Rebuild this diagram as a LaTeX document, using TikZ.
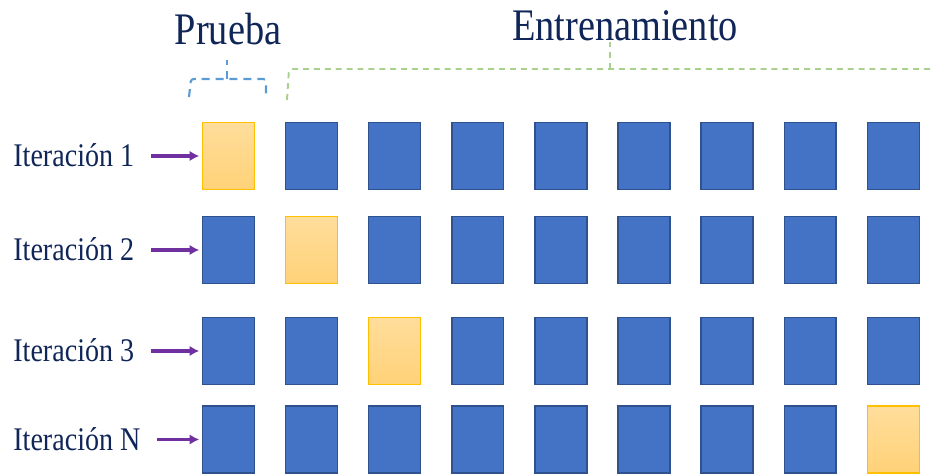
\documentclass[tikz,border=0pt]{standalone}
\usepackage{fontspec}
\setmainfont{Liberation Serif}
\usepackage{tikz}
\usetikzlibrary{arrows.meta,positioning}
\definecolor{NavyText}{RGB}{16,38,88}
\definecolor{FoldBlue}{RGB}{68,114,196}
\definecolor{FoldEdge}{RGB}{47,82,143}
\definecolor{TestTop}{RGB}{255,221,155}
\definecolor{TestBottom}{RGB}{255,210,120}
\definecolor{TestEdge}{RGB}{255,192,0}
\definecolor{ArrowPurple}{RGB}{112,48,160}
\definecolor{BraceBlue}{RGB}{91,155,213}
\definecolor{BraceGreen}{RGB}{169,209,142}
\newcommand{\angosto}[1]{\scalebox{0.85}[1]{#1}}

\begin{document}
\begin{tikzpicture}[x=0.02cm,y=-0.02cm,>={Latex[length=5.5pt,width=6pt]},
    bloque/.style={draw=FoldEdge,fill=FoldBlue,line width=0.8pt,minimum width=29.5pt,minimum height=38pt,inner sep=0pt},
    prueba/.style={bloque,draw=TestEdge,top color=TestTop,bottom color=TestBottom},
    iter/.style={text=NavyText,font=\fontsize{18.8}{21}\selectfont,anchor=west,inner sep=0pt,text height=12.5pt,text depth=0pt},
    titulo/.style={text=NavyText,font=\fontsize{25.7}{29}\selectfont,anchor=base,inner sep=0pt},
    flecha/.style={->,line width=1.8pt,ArrowPurple,shorten <=9.5pt,shorten >=1.5pt},
    corchete/.style={line width=1.2pt,dash pattern=on 4.5pt off 3.4pt}]
      \useasboundingbox (0,0) rectangle (930,475);
      \draw[corchete,BraceBlue,rounded corners=1.5pt] (189,97) -- (191,79) -- (266,79) -- (266,97);
      \draw[corchete,BraceBlue] (227,79) -- (227,60);
      \draw[corchete,BraceGreen,line width=1.1pt,dash pattern=on 3.4pt off 2.8pt,rounded corners=2pt] (287,100) -- (289,69) -- (930,69);
      \draw[corchete,BraceGreen,line width=1.1pt,dash pattern=on 3.4pt off 2.8pt] (610,69) -- (610,42);
      \node[titulo] (prueba) at (228,45) {\angosto{Prueba}};
      \node[titulo] (entrena) at (625,41) {\angosto{Entrenamiento}};
      \foreach \r/\y/\t/\nombre in {1/156/1/Iteración 1,2/250/2/Iteración 2,3/351/3/Iteración 3,4/439.5/9/Iteración N}{
        \node[iter] (it\r) at (13,\y) {\angosto{\nombre}};
        \foreach \c in {1,...,9}{
          \ifnum\c=\t
            \node[prueba] (c\r-\c) at ({145.4+83.1*\c},\y) {};
          \else
            \node[bloque] (c\r-\c) at ({145.4+83.1*\c},\y) {};
          \fi
        }
        \draw[flecha] (it\r) -- (c\r-1);
      }
    \end{tikzpicture}
\end{document}
